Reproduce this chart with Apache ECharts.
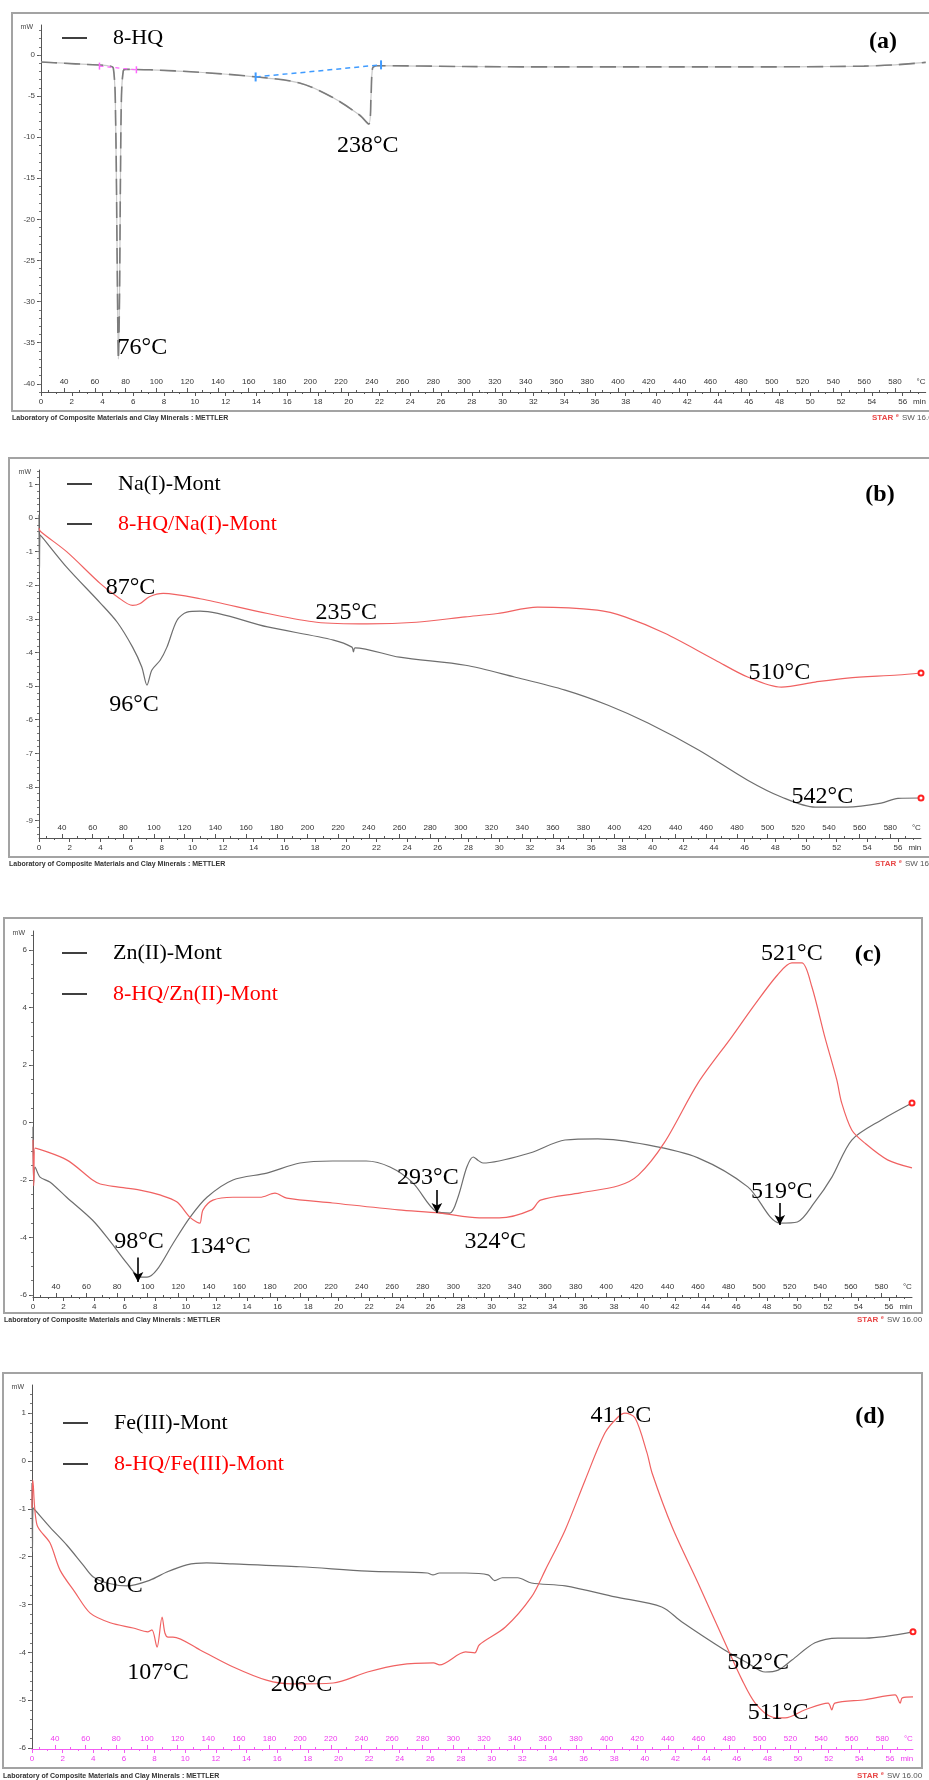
<!DOCTYPE html>
<html><head><meta charset="utf-8">
<script src="https://cdn.jsdelivr.net/npm/echarts@6.0.0/dist/echarts.min.js"></script>
<style>html,body{margin:0;padding:0;background:#fff}#main{width:929px;height:1780px}</style>
</head><body><div id="main"></div>
<script>
// ---------- tick labels ----------
const TEMP_TICKS = [40,60,80,100,120,140,160,180,200,220,240,260,280,300,320,340,360,380,400,420,440,460,480,500,520,540,560,580];
const TIME_TICKS = [0,2,4,6,8,10,12,14,16,18,20,22,24,26,28,30,32,34,36,38,40,42,44,46,48,50,52,54,56];
const Y_TICKS_A = [0,-5,-10,-15,-20,-25,-30,-35,-40];
const Y_TICKS_B = [1,0,-1,-2,-3,-4,-5,-6,-7,-8,-9];
const Y_TICKS_C = [6,4,2,0,-2,-4,-6];
const Y_TICKS_D = [1,0,-1,-2,-3,-4,-5,-6];

// ---------- series values [temperature °C, heat flow mW] ----------
const HQ8 = [[25,-0.85],[40,-1.0],[55,-1.15],[68,-1.3],[72,-1.6],[73.5,-8],[74.5,-25],[75.3,-37],[76,-30],[76.6,-16],[77.3,-5],[78.5,-1.9],[80,-1.75],[96,-1.8],[128,-2.1],[164,-2.65],[193,-3.4],[214,-5.1],[232,-7.3],[238,-8.4],[239.5,-5],[240.5,-1.6],[243,-1.3],[300,-1.4],[360,-1.45],[420,-1.45],[480,-1.45],[540,-1.4],[560,-1.35],[580,-1.2],[600,-0.9]];

const NA_MONT = [[25,0.1],[25.3,-1.6],[25.7,-0.5],[43,-1.46],[65,-2.53],[76,-3.1],[86,-3.84],[92,-4.43],[95.4,-4.97],[98.6,-4.52],[104,-4.23],[108.4,-3.84],[115,-3.04],[121.5,-2.8],[130,-2.77],[174,-3.24],[217,-3.63],[229,-3.84],[230,-3.98],[231,-3.86],[260,-4.14],[303,-4.38],[335,-4.73],[368,-5.12],[396,-5.57],[422,-6.1],[455,-6.9],[487,-7.8],[509,-8.3],[531,-8.6],[552,-8.6],[574,-8.48],[585,-8.34],[600,-8.33]];
const HQ_NA = [[25,-0.3],[26,-0.4],[43,-1.0],[65,-1.95],[76,-2.34],[86,-2.6],[91,-2.54],[97,-2.34],[106,-2.24],[130,-2.4],[174,-2.84],[206,-3.1],[239,-3.15],[271,-3.1],[303,-2.94],[324,-2.84],[350,-2.65],[389,-2.74],[407,-2.94],[433,-3.43],[466,-4.23],[487,-4.73],[509,-5.03],[531,-4.88],[552,-4.76],[585,-4.67],[600,-4.61]];

const ZN_MONT = [[25,-0.15],[25.4,-2.1],[26.3,-1.55],[29.6,-1.9],[36,-2.07],[47,-2.6],[64,-3.4],[75,-4.1],[86.5,-4.9],[95,-5.37],[99.6,-5.38],[106,-5.13],[116.7,-4.2],[127.7,-3.3],[138.8,-2.6],[155.8,-2.0],[178,-1.76],[199.6,-1.41],[221,-1.34],[243,-1.34],[258.5,-1.55],[273.5,-2.1],[289,-3.1],[297.7,-3.15],[303,-2.6],[308.8,-1.55],[313,-1.2],[316,-1.31],[319.3,-1.41],[350,-1.06],[373,-0.61],[394.5,-0.57],[427,-0.78],[460,-1.23],[492.6,-2.24],[513.5,-3.5],[525,-3.46],[536,-2.8],[547.6,-1.9],[560.6,-0.61],[580,0.09],[600,0.68]];
const HQ_ZN = [[25,-0.6],[25.5,-2.2],[26.3,-0.89],[47,-1.3],[64,-2.0],[69,-2.14],[80,-2.24],[95,-2.35],[108,-2.52],[119,-2.76],[127.7,-3.3],[132.3,-3.47],[134.2,-3.5],[136.2,-3.04],[142.7,-2.7],[155.8,-2.6],[173.5,-2.6],[183.3,-2.46],[191,-2.63],[221,-2.8],[264,-3.04],[291,-3.15],[317,-3.32],[330,-3.32],[351,-3.04],[357,-2.7],[383,-2.45],[408,-2.2],[421,-1.83],[438,-0.7],[460,1.37],[482,2.97],[497,4.09],[512,5.13],[521.4,5.55],[528,5.55],[534.5,4.72],[543,2.97],[550.8,1.48],[554,0.68],[560.6,-0.26],[569,-0.71],[584,-1.3],[600,-1.58]];

const FE_MONT = [[25,-0.46],[25.3,-1.9],[25.7,-0.98],[36.7,-1.38],[47.8,-1.76],[58.3,-2.17],[64.8,-2.42],[73.9,-2.55],[87,-2.61],[102,-2.49],[113,-2.32],[126,-2.17],[139,-2.13],[156,-2.15],[200,-2.21],[244,-2.3],[283,-2.34],[286.7,-2.38],[291,-2.34],[308,-2.34],[322.7,-2.38],[327,-2.5],[332,-2.44],[342,-2.44],[351,-2.55],[373,-2.61],[405.6,-2.84],[436,-3.05],[449,-3.36],[477,-3.95],[492,-4.22],[503.5,-4.41],[512,-4.37],[521,-4.16],[536,-3.8],[551,-3.7],[569,-3.7],[600,-3.57]];
const HQ_FE = [[25,-0.98],[25.5,-0.4],[28.3,-1.34],[36.7,-1.71],[43.3,-2.28],[53,-2.74],[63,-3.18],[76,-3.38],[91,-3.49],[100.7,-3.57],[103.3,-3.53],[106.6,-3.89],[109.9,-3.26],[111.8,-3.6],[113.8,-3.68],[117,-3.68],[134.7,-3.95],[156,-4.3],[178,-4.58],[195,-4.66],[221.5,-4.64],[244,-4.41],[265,-4.26],[287,-4.22],[291,-4.26],[308,-3.99],[314,-4.01],[317,-3.84],[334,-3.47],[351,-2.84],[360,-2.28],[373,-1.44],[386,-0.4],[399,0.59],[407.5,0.92],[412,1.0],[418.6,0.9],[426.4,0.17],[429.7,-0.25],[442.8,-1.38],[459.7,-2.55],[477.3,-3.8],[488.5,-4.58],[497,-5.06],[508,-5.35],[516.5,-5.37],[529.6,-5.2],[544.6,-5.06],[547,-5.2],[549,-5.06],[568.7,-4.99],[588.3,-4.89],[591.6,-5.06],[593,-4.95],[600,-4.93]];

// baselines drawn by the instrument software in (a): [start, end]
const BASE_BLUE_A = [[164.5,-2.67],[246,-1.2]];
const BASE_PINK_A = [[63,-1.35],[87,-1.8]];

// peak annotations [text, T, mW]
const NOTES_A = [['76°C',75.3,-37],['238°C',238,-8.4]];
const NOTES_B = [['87°C',86,-2.6],['96°C',95.4,-4.97],['235°C',239,-3.15],['510°C',509,-5.03],['542°C',552,-8.6]];
const NOTES_C = [['98°C',95,-5.37],['134°C',134.2,-3.5],['293°C',297.7,-3.15],['324°C',330,-3.32],['521°C',521.4,5.55],['519°C',513.5,-3.5]];
const NOTES_D = [['80°C',87,-2.61],['107°C',106.6,-3.89],['206°C',195,-4.66],['411°C',412,1.0],['502°C',503.5,-4.41],['511°C',516.5,-5.37]];
// arrows in (c): [T, from mW, to mW]
const ARROWS_C = [[93.7,-4.7,-5.55],[289.2,-2.35,-3.15],[513.5,-2.8,-3.57]];

// ---------- styles / layout ----------
const OFF_A = [[24,-11],[-1,22]];
const OFF_B = [[-2,-18],[-13,20],[-21,-11],[-2,-14],[-25,-10]];
const OFF_C = [[-1,-35],[20,24],[-22,-35],[-4,24],[0,-9],[2,-31]];
const OFF_D = [[-9,0],[1,26],[9,1],[-4,2],[-7,-9],[-7,-5]];

const GRAY = '#6e6e6e', RED = '#f06262';
const PANELS = [
  {left:41, top:25, width:886, height:367, yMin:-41, yMax:3.65, yTicks:Y_TICKS_A, yStep:1, xColor:'#555', xLabel:'#333'},
  {left:39, top:470, width:882, height:368, yMin:-9.52, yMax:1.43, yTicks:Y_TICKS_B, yStep:0.2, xColor:'#555', xLabel:'#333'},
  {left:33, top:931, width:879, height:366, yMin:-6.07, yMax:6.66, yTicks:Y_TICKS_C, yStep:0.5, xColor:'#555', xLabel:'#333'},
  {left:32, top:1385, width:881, height:364, yMin:-6.02, yMax:1.59, yTicks:Y_TICKS_D, yStep:0.2, xColor:'#f25cf2', xLabel:'#f03cf0'}
];

function steps(a, b, s) { const r = []; for (let v = a; v <= b + 1e-9; v += s) r.push(+v.toFixed(3)); return r; }

const grid = [], xAxis = [], yAxis = [], series = [], legend = [];
const LBL_FONT = 'Liberation Sans';

PANELS.forEach((p, i) => {
  grid.push({left:p.left, top:p.top, width:p.width, height:p.height, show:false});
  const lc = {color:p.xColor, width:1};
  xAxis.push({type:'value', gridIndex:i, min:25, max:600, position:'bottom',
    axisLine:{show:true, onZero:false, lineStyle:lc},
    axisTick:{show:true, inside:true, length:4, customValues:TEMP_TICKS, lineStyle:lc},
    axisLabel:{inside:true, margin:6, customValues:TEMP_TICKS.concat([597]), formatter:v => v === 597 ? '°C' : String(v), fontSize:8, fontFamily:LBL_FONT, color:p.xLabel},
    splitLine:{show:false}});
  xAxis.push({type:'value', gridIndex:i, min:25, max:600, position:'bottom',
    axisLine:{show:false, onZero:false}, axisTick:{show:true, inside:true, length:2, customValues:steps(30,590,10), lineStyle:lc},
    axisLabel:{show:false}, splitLine:{show:false}});
  xAxis.push({type:'value', gridIndex:i, min:0, max:57.5, position:'bottom',
    axisLine:{show:false, onZero:false}, axisTick:{show:true, inside:false, length:4, customValues:TIME_TICKS, lineStyle:lc},
    axisLabel:{margin:6, customValues:TIME_TICKS.concat([57.1]), formatter:v => v === 57.1 ? 'min' : String(v), fontSize:8, fontFamily:LBL_FONT, color:p.xLabel},
    splitLine:{show:false}});
  xAxis.push({type:'value', gridIndex:i, min:0, max:57.5, position:'bottom',
    axisLine:{show:false, onZero:false}, axisTick:{show:true, inside:false, length:2, customValues:steps(1,57,1), lineStyle:lc},
    axisLabel:{show:false}, splitLine:{show:false}});
  yAxis.push({type:'value', gridIndex:i, min:p.yMin, max:p.yMax, position:'left',
    axisLine:{show:true, onZero:false, lineStyle:{color:'#555', width:1}},
    axisTick:{show:true, length:4, customValues:p.yTicks, lineStyle:{color:'#555'}},
    axisLabel:{customValues:p.yTicks, margin:6, fontSize:8, fontFamily:LBL_FONT, color:'#444'},
    splitLine:{show:false},
    name:'mW', nameLocation:'end', nameGap:1,
    nameTextStyle:{fontSize:7, fontFamily:LBL_FONT, color:'#444', align:'right', verticalAlign:'top', padding:[0,8,0,0]}});
  yAxis.push({type:'value', gridIndex:i, min:p.yMin, max:p.yMax, position:'left',
    axisLine:{show:false, onZero:false},
    axisTick:{show:true, length:2, customValues:steps(Math.ceil(p.yMin / p.yStep) * p.yStep, p.yMax, p.yStep), lineStyle:{color:'#777'}},
    axisLabel:{show:false}, splitLine:{show:false}});
});

function notePoints(notes, offs) {
  return notes.map((n, k) => ({coord:[n[1], n[2]], symbol:'circle', symbolSize:0,
    label:{show:true, position:'inside', offset:offs[k], formatter:n[0], fontFamily:'Liberation Serif', fontSize:24, color:'#000'}}));
}
function endPoint(arr) {
  return {coord:arr[arr.length - 1], symbol:'emptyCircle', symbolSize:5, itemStyle:{color:'#f22', borderColor:'#f22', borderWidth:1.2}, label:{show:false}};
}
function lineSeries(name, data, i, color, extra) {
  return Object.assign({type:'line', name:name, data:data, xAxisIndex:4 * i, yAxisIndex:2 * i,
    showSymbol:false, symbol:'none', smooth:0.3, animation:false, silent:true,
    lineStyle:{color:color, width:1.2}, itemStyle:{color:color}, emphasis:{disabled:true}}, extra || {});
}

// (a)
series.push(lineSeries('8-HQ', HQ8, 0, '#c9c9c9', {
  markLine:{silent:true, symbol:['none','none'], animation:false, label:{show:false},
    data:[
      [{coord:BASE_BLUE_A[0], lineStyle:{color:'#3f9bff', type:[5,4], width:1.5}}, {coord:BASE_BLUE_A[1]}],
      [{coord:BASE_PINK_A[0], lineStyle:{color:'#ff66ff', type:[4,4], width:1.2}}, {coord:BASE_PINK_A[1]}]
    ]},
  markPoint:{silent:true, animation:false, data:[
    {coord:BASE_BLUE_A[0], symbol:'rect', symbolSize:[2,9], itemStyle:{color:'#3f9bff'}, label:{show:false}},
    {coord:BASE_BLUE_A[1], symbol:'rect', symbolSize:[2,9], itemStyle:{color:'#3f9bff'}, label:{show:false}},
    {coord:BASE_PINK_A[0], symbol:'rect', symbolSize:[1.5,7], itemStyle:{color:'#ff66ff'}, label:{show:false}},
    {coord:BASE_PINK_A[1], symbol:'rect', symbolSize:[1.5,7], itemStyle:{color:'#ff66ff'}, label:{show:false}}
  ].concat(notePoints(NOTES_A, OFF_A))}
}));
series.push(lineSeries('8-HQ', HQ8, 0, '#7c7c7c', {lineStyle:{color:'#7c7c7c', width:1.6, type:[16,7]}}));
// (b)
series.push(lineSeries('Na(I)-Mont', NA_MONT, 1, GRAY, {markPoint:{silent:true, animation:false, data:[endPoint(NA_MONT), endPoint(HQ_NA)].concat(notePoints(NOTES_B, OFF_B))}}));
series.push(lineSeries('8-HQ/Na(I)-Mont', HQ_NA, 1, RED));
// (c)
series.push(lineSeries('Zn(II)-Mont', ZN_MONT, 2, GRAY, {
  markPoint:{silent:true, animation:false, data:[endPoint(ZN_MONT)].concat(notePoints(NOTES_C, OFF_C))},
  markLine:{silent:true, animation:false, symbol:['none','arrow'], symbolSize:[8,10], label:{show:false},
    lineStyle:{color:'#000', width:1.6, type:'solid'},
    data:ARROWS_C.map(a => [{coord:[a[0], a[1]]}, {coord:[a[0], a[2]]}])}
}));
series.push(lineSeries('8-HQ/Zn(II)-Mont', HQ_ZN, 2, RED));
// (d)
series.push(lineSeries('Fe(III)-Mont', FE_MONT, 3, GRAY, {markPoint:{silent:true, animation:false, data:[endPoint(FE_MONT)].concat(notePoints(NOTES_D, OFF_D))}}));
series.push(lineSeries('8-HQ/Fe(III)-Mont', HQ_FE, 3, RED));

// legends
const LEG_TEXT = {fontFamily:'Liberation Serif', fontSize:22, color:'#000', padding:[0,0,0,21], lineHeight:24};
function mkLegend(left, top, names) {
  return {left:left, top:top, orient:'vertical', itemGap:16, itemWidth:25, itemHeight:1.5, icon:'rect',
    selectedMode:false, itemStyle:{color:'#000', borderWidth:0}, textStyle:LEG_TEXT,
    data:names.map((n, k) => ({name:n, textStyle:{color:k === 0 ? '#000' : '#ff0000'}}))};
}
legend.push(mkLegend(57, 21, ['8-HQ']));
legend.push(mkLegend(62, 467, ['Na(I)-Mont','8-HQ/Na(I)-Mont']));
legend.push(Object.assign(mkLegend(57, 936, ['Zn(II)-Mont','8-HQ/Zn(II)-Mont']), {itemGap:17}));
legend.push(Object.assign(mkLegend(58, 1406, ['Fe(III)-Mont','8-HQ/Fe(III)-Mont']), {itemGap:17}));

// frames, panel letters, footers
const FRAMES = [[12,13,940,398],[9,458,940,399],[4,918,918,395],[3,1373,919,395]];
const LETTERS = [['(a)',883,42],['(b)',880,495],['(c)',868,955],['(d)',870,1417]];
const FOOTERS = [[12,418,872],[9,864,875],[4,1320,857],[3,1776,857]];
const FOOT_TEXT = 'Laboratory of Composite Materials and Clay Minerals : METTLER';
const graphic = [];
FRAMES.forEach(f => graphic.push({type:'rect', silent:true, z:-10, shape:{x:f[0], y:f[1], width:f[2], height:f[3]}, style:{fill:'none', stroke:'#a3a3a3', lineWidth:2}}));
LETTERS.forEach(l => graphic.push({type:'text', silent:true, x:l[1], y:l[2], style:{text:l[0], font:'bold 24px "Liberation Serif"', fill:'#000', align:'center', verticalAlign:'middle'}}));
FOOTERS.forEach(f => {
  graphic.push({type:'text', silent:true, x:f[0], y:f[1], style:{text:FOOT_TEXT, font:'bold 7px "Liberation Sans"', fill:'#333', verticalAlign:'middle'}});
  graphic.push({type:'text', silent:true, x:f[2], y:f[1], style:{text:'STAR', font:'bold 8px "Liberation Sans"', fill:'#e84848', verticalAlign:'middle'}});
  graphic.push({type:'text', silent:true, x:f[2] + 24, y:f[1] - 2, style:{text:'e', font:'bold 5px "Liberation Sans"', fill:'#e84848', verticalAlign:'middle'}});
  graphic.push({type:'text', silent:true, x:f[2] + 30, y:f[1], style:{text:'SW 16.00', font:'8px "Liberation Sans"', fill:'#555', verticalAlign:'middle'}});
});

const chart = echarts.init(document.getElementById('main'), null, {renderer:'canvas'});
chart.setOption({backgroundColor:'#fff', animation:false, grid, xAxis, yAxis, series, legend, graphic});
</script></body></html>
